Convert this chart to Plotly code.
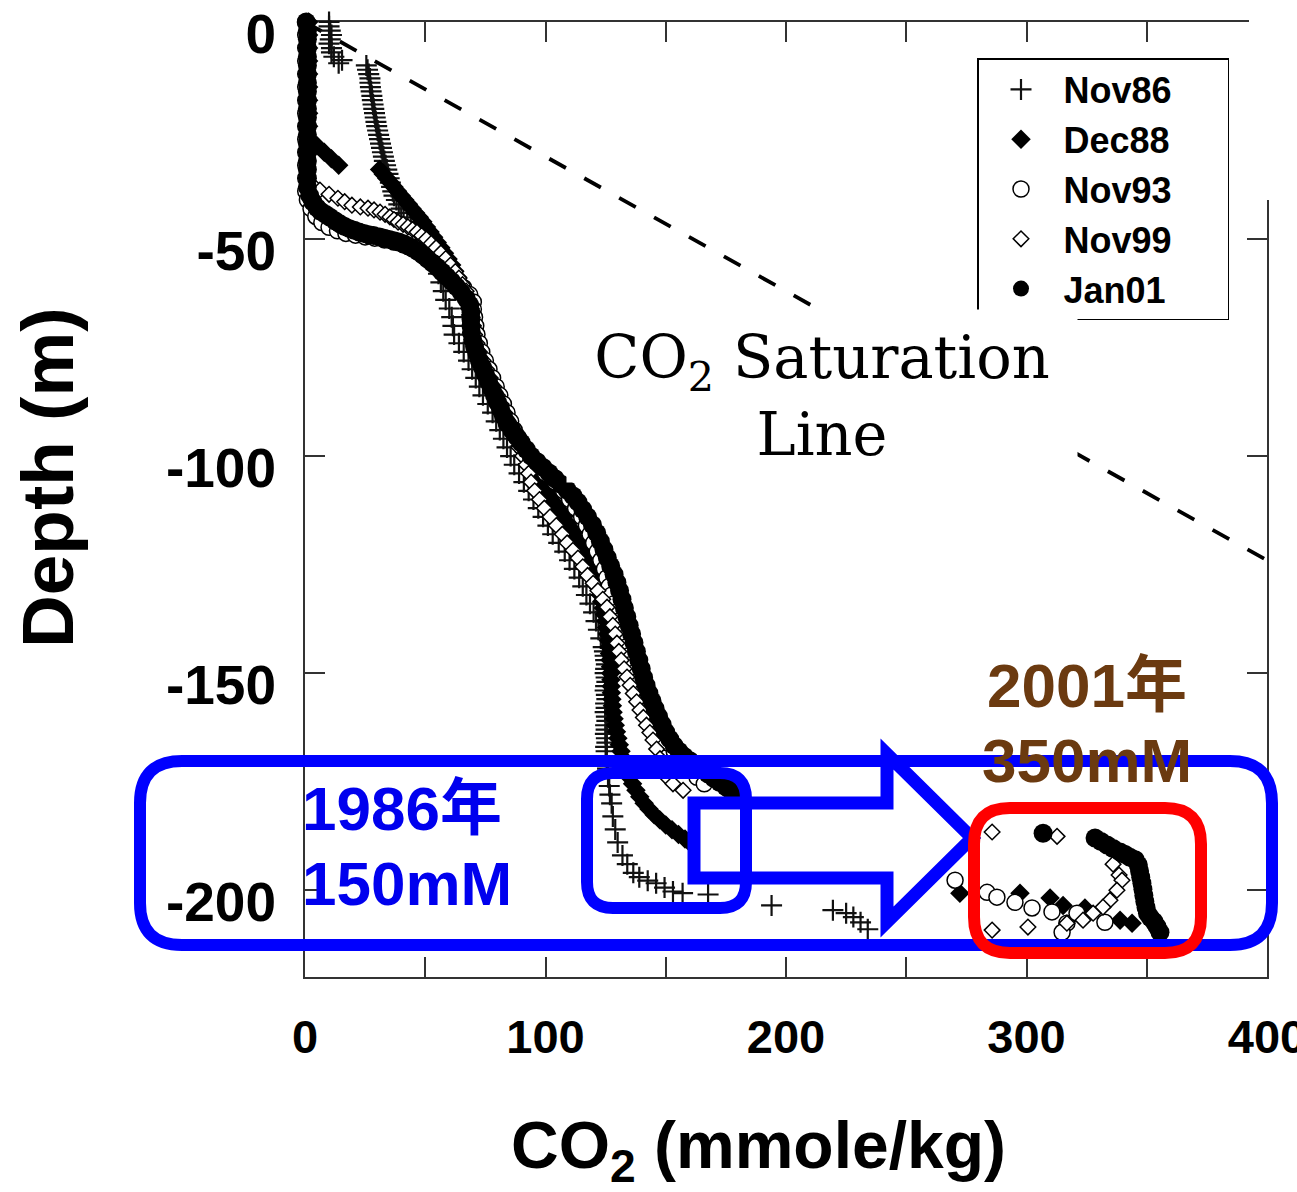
import plotly.graph_objects as go

# ---------------- data ----------------
nov86_x = [10, 10, 10.5, 11, 10.5, 10, 11, 11, 12, 14, 15.4,
           25.5, 26, 26.5, 27, 27, 27.2, 27.5, 27.8, 28, 28.3, 28.6, 28.9, 29.2, 29.5, 29.8, 30.2, 30.6, 31, 31.4,
           31.8, 32.2, 32.6, 33, 33.5, 34, 34.5, 35, 35.5, 36, 36.5, 37, 38, 39, 40, 41, 42.5, 44, 45.5, 47, 48.5, 50,
           51.5, 53, 54.5, 55.5, 56.5, 57.5, 58.5, 60, 61, 61.5, 62, 64, 66, 68, 69.5, 71, 72.5, 74, 76, 78, 79.5,
           81, 82.5, 84, 85.5, 87, 89, 91, 93, 95, 97, 99, 101, 103, 105.5, 108, 110, 112, 114, 115.5, 117, 118.5,
           120, 121, 122, 123, 124,
           124.5, 124.8, 125, 125.3, 125, 124.8, 125.2, 125.5, 125, 124.8, 125.3, 125.5, 125, 125.2, 124.8, 125.3,
           125.5, 125, 125.2, 124.9, 125.3, 125.5, 125, 125.2, 125.5, 125.8, 126, 126.5,
           126.8, 127.5, 128, 129, 130, 132, 134, 136.5, 139, 142.5, 146, 149.5, 153, 157, 167.6, 194, 219.5, 225, 228,
           231, 234]
nov86_y = [0, -1, -2, -3, -4, -5, -6, -7, -8, -9.5, -8.8,
           -10, -11, -12, -13, -14, -15, -16, -17, -18, -19, -20, -21, -22, -23, -24, -25, -26, -27, -28, -29, -30,
           -31, -32, -33, -34, -35, -36, -37, -38, -39, -40, -41, -42, -43, -44, -45, -46, -47, -48, -49, -50,
           -52, -54, -56, -58, -60, -62, -64, -66, -68, -70, -72, -74, -76, -78, -80, -82, -84, -86, -88, -90, -92,
           -94, -96, -98, -100, -102, -104, -106, -108, -110, -112, -114, -116, -118, -120, -122, -124, -126, -128,
           -130, -132, -134, -136, -138, -140, -142, -144,
           -145, -146, -147, -148, -149, -150, -151, -152, -153, -154, -155, -156, -157, -158, -159, -160, -161,
           -162, -163, -164, -165, -166, -167, -168, -170, -172, -174, -176,
           -178, -180, -183, -186, -189, -192, -194, -196, -197, -197.8, -198.4, -199.4, -200.3, -200.7, -201, -203.5,
           -204.6, -205.3, -206.2, -207.4, -209]

dec88_x = [1.5, 1.5, 1.5, 1.5, 1.5, 1.5, 1.5, 1.5, 1.5, 2, 5, 8, 11, 14,
           31, 32.5, 34, 35.5, 37, 38.5, 40, 41.5, 43, 44.5, 46, 47.5, 49, 50.5, 52, 53.5, 55, 56.5, 58, 59.5, 61,
           62.3, 63.5, 64.7, 65.8, 66.8, 67.6, 68.3, 68.8, 69.2, 69.6, 70, 70.6, 71.4, 72.3, 73.3, 74.3, 75.4, 76.5,
           77.6, 78.7, 79.8, 81, 82.2, 83.5, 85, 86.5, 88, 89.5, 91, 92.5, 94, 95.6, 97.2, 98.8, 100.5, 102.2, 104,
           105.8, 107.6, 109.4, 111.2, 112.8, 114.4, 115.8, 117.1, 118.3, 119.4, 120.4, 121.3, 122.1, 122.8, 123.4,
           124, 124.5, 125, 125.4, 125.8, 126.1, 126.4, 126.6, 126.8, 127, 127.1, 127.2, 127.3, 127.4, 127.6, 127.8,
           128.1, 128.5, 129, 129.5, 130.1, 130.7, 131.4, 132.1, 132.9, 133.8, 134.9, 136.2, 137.6, 139.2, 141, 143,
           145.2, 147.5, 150, 152.6, 155.3, 158, 160,
           272.3, 297.3, 309.8, 315.2, 324.3, 338.9, 343.9]
dec88_y = [0, -3, -6, -9, -12, -15, -18, -21, -24, -27, -28.5, -30, -31.5, -33,
           -34, -35, -36, -37, -38, -39, -40, -41, -42, -43, -44, -45, -46, -47.2, -48.4, -49.6, -50.8, -52, -53.3,
           -54.6, -56, -57.4, -58.8, -60.2, -61.6, -63, -64.5, -66, -67.5, -69, -70.5, -72, -73.5, -75, -76.5, -78,
           -79.5, -81, -82.5, -84, -85.5, -87, -88.5, -90, -91.5, -93, -94.5, -96, -97.5, -99, -100.5, -102, -103.5,
           -105, -106.5, -108, -109.5, -111, -112.5, -114, -115.5, -117, -118.5, -120, -121.5, -123, -124.5, -126,
           -127.5, -129, -130.5, -132, -133.5, -135, -136.5, -138, -139.5, -141, -142.5, -144, -145.5, -147, -148.5,
           -150, -151.5, -153, -154.5, -156, -157.5, -159, -160.5, -162, -163.5, -165, -166.5, -168, -169.5, -171,
           -172.5, -174, -175.5, -177, -178.5, -180, -181.3, -182.6, -183.8, -185, -186.1, -187.2, -188.2, -189,
           -200.7, -200.7, -201.8, -203.5, -204.1, -206.9, -207.6]

nov93_x = [0.3, 0.3, 0.3, 0.3, 0.3, 0.3, 0.3, 0.3, 0.3, 0.3, 0.3, 0.3, 0.3, 0.3,
           1, 2.5, 4.5, 7, 10, 13.5, 17, 21, 25, 29, 33, 37, 41, 44.5, 48, 51, 54, 57, 60, 63, 66, 68.5, 70, 70,
           70.5, 71, 71.5, 72.5, 73.5, 75, 76.5, 78, 79.5, 81, 82.5, 84, 85.5, 87, 89,
           92, 96, 100, 104, 107.5, 110, 112.5, 115, 117, 118.5, 120, 121.5, 123, 124.5, 125.5, 126.5, 127.5, 128.5,
           129.5, 130.5, 131.5, 132.5, 133.5, 134.5, 135.5, 136.5, 137.8, 139, 140.5, 142, 143.7, 145.5, 147.7, 150,
           153.5, 157, 160, 163, 166,
           270.3, 283.6, 287.7, 295.2, 302.3, 310.6, 316.8, 321, 314.8, 332.6]
nov93_y = [0, -3, -6, -9, -12, -15, -18, -21, -24, -27, -30, -33, -36, -39,
           -41, -43, -44.8, -46.2, -47.3, -48.1, -48.7, -49.1, -49.5, -49.8, -50.2, -50.7, -51.3, -52, -53, -54.2,
           -55.5, -56.8, -58.2, -59.7, -61.2, -62.8, -64.5, -66.2, -68, -70, -72, -74, -76, -78, -80, -82, -84, -86,
           -88, -90, -92, -94, -96,
           -100, -102, -104, -106, -108, -110, -112, -114, -116, -118, -120, -122, -124, -126, -128, -130, -132,
           -134, -136, -138, -140, -142, -144, -146, -148, -150, -152, -154, -156, -158, -160, -162, -164, -166,
           -168, -170, -172, -174, -175.5,
           -197.7, -200.5, -201.6, -202.8, -204.1, -205, -207.6, -205.3, -209.7, -207.4]

nov99_x = [0.8, 0.8, 0.8, 0.8, 0.8, 0.8, 0.8, 0.8, 0.8, 0.8, 0.8, 0.8, 0.8,
           3, 6.2, 10, 13.7, 16.5, 19.5, 23, 26.2, 28.7, 31.2, 33.3, 35.3, 37, 38.7, 40.8, 42.8, 44.7, 46.6, 48.5, 50.5,
           52.5, 54.5, 56.5, 58.5, 60.5, 62.5, 64, 65.5, 67, 68, 69, 69.5, 70, 70.5, 71.5, 72.5, 74, 75.5, 77, 78.5, 80,
           81.5, 83, 84.5, 86, 87.5, 89, 90.5, 92, 93, 94, 95.5, 97.5, 99.5, 101.9, 104.5, 107, 109, 111.4, 113.5,
           115.5, 117.5, 119.8, 121.8, 123.8, 125.6, 126.8, 128, 129, 129.7, 130.5, 131.5, 132.7, 133.9, 135.2, 136.5,
           137.9, 139.3, 140.7, 142, 143.4, 144.7, 146.2, 147.6, 149, 150.5, 153, 157.2,
           285.7, 312.7, 336, 338.5, 339.7, 337.6, 334.7, 331.8, 327.7, 323.5, 316.8, 300.6, 285.7]
nov99_y = [0, -3, -6, -9, -12, -15, -18, -21, -24, -27, -30, -33, -36,
           -37.5, -38.7, -39.7, -40.6, -41.4, -42.2, -42.6, -42.9, -43.3, -43.8, -44.3, -44.9, -45.5, -46.1, -46.6,
           -47.2, -47.8, -48.4, -49.2, -50, -51, -52, -53.2, -54.5, -56, -57.5, -59, -60.5, -62, -64, -66, -68, -70,
           -72, -74, -76, -78, -80, -82, -84, -86, -88, -90, -92, -94, -96, -98, -100, -102, -104, -106, -108, -110,
           -112, -114, -116, -118, -120, -121.7, -123.5, -125.5, -127.5, -129.3, -131, -133, -134.8, -137, -139, -141,
           -143.1, -145, -147, -149, -150.9, -152.8, -154.7, -156.6, -158.5, -160.2, -162, -163.7, -165.4, -167.5,
           -169.7, -171.8, -174, -175.5, -177,
           -186.6, -187.6, -194, -196.5, -197.7, -200, -202.3, -203.9, -205.3, -206.9, -207.6, -208.5, -209.2]

jan01_x = [0.5, 1, 1, 1, 1, 1, 1, 1, 1, 1, 1, 1, 1, 1, 1, 1, 1, 1, 1, 1, 2,
           3.3, 5, 6.5, 8.5, 10.4, 12.5, 14.5, 16.5, 18.5, 20.5, 22.5, 24.5, 26.5, 28.5, 31, 33, 35, 37, 39, 41, 43,
           45, 47, 49, 51, 53, 55, 57, 59, 61, 63, 65, 67, 68.5, 69, 69, 69, 69.2, 69.7, 70.5, 71.5, 72.5, 73.8, 75,
           76.3, 77.5, 78.8, 80, 81.3, 82.5, 84, 86, 88, 90, 92, 94, 96.5, 99, 101.5, 104, 106.5, 109, 111.5, 113.5,
           115.5, 117.5, 119.5, 121.3, 122.8, 124.3, 125.7, 127.1, 128.5, 129.7, 130.8, 131.8, 132.8, 133.8, 134.8,
           135.8, 136.8, 137.8, 138.8, 139.8, 140.8, 141.8, 143, 144.3, 145.6, 147, 148.5, 150, 151.7, 153.5, 155.5,
           157.7, 160, 162.5, 165, 167.5, 170, 172.5, 175, 177, 179,
           306.9, 328.5, 331, 333.5, 336, 338.9, 341, 343, 345.2, 346.5, 347, 347.5, 348, 348.4, 348.8, 349.2, 349.7,
           350.3, 351.5, 353, 354.3, 355.5]
jan01_y = [0, -2, -4, -6, -8, -10, -12, -14, -16, -18, -20, -22, -24, -26, -28, -30, -32, -34, -36, -38, -40,
           -41.5, -42.8, -43.6, -44.3, -45, -45.8, -46.5, -47.1, -47.6, -48, -48.4, -48.7, -49, -49.2, -49.5, -49.8,
           -50.1, -50.4, -50.7, -51.1, -51.6, -52.2, -52.9, -53.7, -54.6, -55.5, -56.5, -57.6, -58.7, -59.8, -61,
           -62.3, -63.7, -65.2, -66.8, -68.4, -70, -71.6, -73.2, -74.8, -76.4, -78, -79.6, -81.2, -82.8, -84.4, -86,
           -87.6, -89.2, -90.8, -92.4, -94, -95.5, -97, -98.5, -100, -101.3, -102.6, -103.9, -105.2, -106.5, -107.8,
           -109.2, -110.6, -112.3, -114, -115.8, -117.7, -119.6, -121.5, -123.4, -125.3, -127.2, -129.1, -131, -133,
           -135, -137, -139, -141, -143, -145, -147, -149, -151, -152.8, -154.6, -156.4, -158.2, -160, -161.8, -163.6,
           -165.2, -166.7, -168, -169.2, -170.2, -171.2, -172.2, -173.2, -174.2, -175.2, -176.2, -177, -177.8,
           -186.9, -188, -188.8, -189.6, -190.4, -191.2, -191.8, -192.4, -193, -194.2, -195.6, -197, -198.4, -199.8,
           -201.2, -202.6, -204, -205.3, -206.3, -207.2, -208.4, -209.7]

sat_x = [0, 400]
sat_y = [0, -124]

x_ticks = [0, 50, 100, 150, 200, 250, 300, 350, 400]
x_ticktext = ["0", "", "100", "", "200", "", "300", "", "400"]
y_ticks = [0, -50, -100, -150, -200]
y_ticktext = ["0", "-50", "-100", "-150", "-200"]
series_names = ["Nov86", "Dec88", "Nov93", "Nov99", "Jan01"]

for _a, _b in [(nov86_x, nov86_y), (dec88_x, dec88_y), (nov93_x, nov93_y), (nov99_x, nov99_y),
               (jan01_x, jan01_y)]:
    assert len(_a) == len(_b), (len(_a), len(_b))

# ---------------- layout helpers (pixel -> paper) ----------------
W, H = 1297, 1192
PL, PR, PT, PB = 305, 1267, 22, 977


def fx(px):
    return (px - PL) / (PR - PL)


def fy(py):
    return (PB - py) / (PB - PT)


def rrect(x0, y0, x1, y1, r):
    return (f"M {fx(x0 + r)},{fy(y0)} L {fx(x1 - r)},{fy(y0)} Q {fx(x1)},{fy(y0)} {fx(x1)},{fy(y0 + r)} "
            f"L {fx(x1)},{fy(y1 - r)} Q {fx(x1)},{fy(y1)} {fx(x1 - r)},{fy(y1)} "
            f"L {fx(x0 + r)},{fy(y1)} Q {fx(x0)},{fy(y1)} {fx(x0)},{fy(y1 - r)} "
            f"L {fx(x0)},{fy(y0 + r)} Q {fx(x0)},{fy(y0)} {fx(x0 + r)},{fy(y0)} Z")


def poly(pts):
    return "M " + " L ".join(f"{fx(a)},{fy(b)}" for a, b in pts) + " Z"


SANS = "Liberation Sans, Arial, Noto Sans CJK JP, sans-serif"
PAD = "\u00a0" * 5

fig = go.Figure()

fig.add_trace(go.Scatter(x=sat_x, y=sat_y, mode="lines", showlegend=False, hoverinfo="skip",
                         line=dict(color="black", width=3.8, dash="19px,21px")))

fig.add_trace(go.Scatter(x=nov86_x, y=nov86_y, mode="markers", name=series_names[0] + PAD, cliponaxis=False,
                         marker=dict(symbol="cross-thin", size=15, color="#111",
                                     line=dict(color="#111", width=2.2))))
fig.add_trace(go.Scatter(x=dec88_x, y=dec88_y, mode="markers", name=series_names[1] + PAD, cliponaxis=False,
                         marker=dict(symbol="diamond", size=15, color="black", line=dict(width=0))))
fig.add_trace(go.Scatter(x=nov93_x, y=nov93_y, mode="markers", name=series_names[2] + PAD, cliponaxis=False,
                         marker=dict(symbol="circle", size=16, color="white",
                                     line=dict(color="black", width=1.5))))
fig.add_trace(go.Scatter(x=nov99_x, y=nov99_y, mode="markers", name=series_names[3] + PAD, cliponaxis=False,
                         marker=dict(symbol="diamond", size=12, color="white",
                                     line=dict(color="black", width=1.5))))
fig.add_trace(go.Scatter(x=jan01_x, y=jan01_y, mode="markers", name=series_names[4] + PAD, cliponaxis=False,
                         marker=dict(symbol="circle", size=19, color="black", line=dict(width=0))))

BLUE = "#0000FF"
RED = "#FF0000"
shapes = [
    dict(type="rect", xref="paper", yref="paper", x0=fx(1249), x1=fx(1297), y0=fy(0), y1=fy(200),
         fillcolor="white", line=dict(width=0), layer="above"),
    dict(type="path", xref="paper", yref="paper", path=rrect(140, 761, 1272, 945, 42),
         line=dict(color=BLUE, width=12), layer="above"),
    dict(type="path", xref="paper", yref="paper",
         path=poly([(694, 803), (887, 803), (887, 754), (972, 838), (887, 922), (887, 878), (694, 878)]),
         line=dict(color=BLUE, width=13), fillcolor="white", layer="above"),
    dict(type="path", xref="paper", yref="paper", path=rrect(587, 773, 746, 908, 26),
         line=dict(color=BLUE, width=12), layer="above"),
    dict(type="path", xref="paper", yref="paper", path=rrect(974, 808, 1201, 953, 36),
         line=dict(color=RED, width=12), layer="above"),
]

annotations = [
    dict(text="CO<sub>2</sub> Saturation<br>Line", xref="paper", yref="paper", x=fx(822), y=fy(396),
         xanchor="center", yanchor="middle", showarrow=False, width=510, height=172, bgcolor="white",
         borderpad=0, align="center", valign="middle",
         font=dict(family="DejaVu Serif, serif", size=59, color="black")),
    dict(text="1986年", xref="paper", yref="paper", x=fx(300), y=fy(808), xanchor="left", yanchor="middle",
         showarrow=False, font=dict(family=SANS, size=62, color="#0000EE", weight="bold")),
    dict(text="150mM", xref="paper", yref="paper", x=fx(300), y=fy(883), xanchor="left", yanchor="middle",
         showarrow=False, font=dict(family=SANS, size=62, color="#0000EE", weight="bold")),
    dict(text="2001年", xref="paper", yref="paper", x=fx(1087), y=fy(686), xanchor="center", yanchor="middle",
         showarrow=False, font=dict(family=SANS, size=62, color="#6B3A10", weight="bold")),
    dict(text="350mM", xref="paper", yref="paper", x=fx(1087), y=fy(760), xanchor="center", yanchor="middle",
         showarrow=False, font=dict(family=SANS, size=62, color="#6B3A10", weight="bold")),
    dict(text="CO<sub>2</sub> (mmole/kg)", xref="paper", yref="paper", x=fx(758), y=fy(1150),
         xanchor="center", yanchor="middle", showarrow=False,
         font=dict(family=SANS, size=66, color="black", weight="bold")),
    dict(text="Depth (m)", xref="paper", yref="paper", x=fx(47), y=fy(478), xanchor="center",
         yanchor="middle", textangle=-90, showarrow=False,
         font=dict(family=SANS, size=73, color="black", weight="bold")),
]

axis_common = dict(showgrid=False, zeroline=False, showline=True, linecolor="#333", linewidth=2,
                   mirror="allticks", ticks="inside", ticklen=20, tickwidth=2, tickcolor="#333",
                   layer="below traces", ticklabeloverflow="allow")

fig.update_layout(
    width=W, height=H,
    margin=dict(l=PL, r=W - PR, t=PT, b=H - PB, autoexpand=False),
    paper_bgcolor="white", plot_bgcolor="white",
    xaxis=dict(range=[0, 400], tickmode="array", tickvals=x_ticks, ticktext=x_ticktext,
               tickfont=dict(family=SANS, size=47, color="black", weight="bold"),
               ticklabelstandoff=18, **axis_common),
    yaxis=dict(range=[-220, 0], tickmode="array", tickvals=y_ticks, ticktext=y_ticktext,
               tickfont=dict(family=SANS, size=55, color="black", weight="bold"),
               ticklabelstandoff=16, ticklabelshift=12, **axis_common),
    legend=dict(x=fx(977), y=fy(58), xanchor="left", yanchor="top", bgcolor="white",
                bordercolor="black", borderwidth=1.5, itemwidth=75,
                font=dict(family=SANS, size=36, color="black", weight="bold")),
    shapes=shapes,
    annotations=annotations,
    showlegend=True,
)

fig.write_html("out.html", config={"displayModeBar": False},
               post_script="document.body.style.margin='0px';document.body.style.overflow='hidden';")
